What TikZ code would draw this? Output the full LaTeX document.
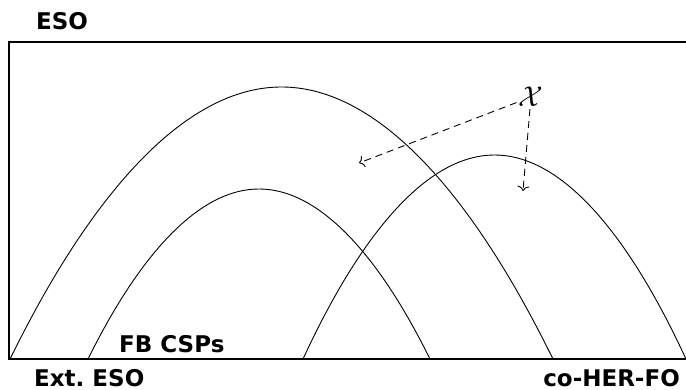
\documentclass[tikz,border=0pt]{standalone}
\usepackage{graphicx}
\usepackage{fontspec}
\newfontfamily\lblfont{DejaVu Sans}
\usetikzlibrary{arrows.meta}
\begin{document}
\begin{tikzpicture}[x=1pt,y=-1pt,
  lbl/.style={font=\lblfont\bfseries\fontsize{23}{26}\selectfont, inner sep=0pt},
  curve/.style={line width=0.9pt},
  frame/.style={line width=1.1pt},
  ptr/.style={-{To[length=5pt,width=12pt,line width=0.9pt]}, line width=0.9pt, dash pattern=on 7pt off 5pt}]
\useasboundingbox (0,0) rectangle (686,389);
% frame (right side open)
\draw[frame] (686,42) -- (9,42) -- (9,359) -- (686,359);
% curves
\draw[curve] (10,359) parabola bend (281.5,87) (553,359);
\draw[curve] (88,359) parabola bend (259,189) (430,359);
\draw[curve] (303,359) parabola bend (494.5,155) (686,359);
% labels
\node[lbl, anchor=base west] (eso) at (36,29) {ESO};
\node[lbl, anchor=base west] (ext) at (34,386) {Ext.\ ESO};
\node[lbl, anchor=base west] (fb) at (119,352) {FB CSPs};
\node[lbl, anchor=base east] (co) at (680,386) {co-HER-FO};
\node[inner sep=2pt, font=\fontsize{24.88}{28}\selectfont] (chi) at (531,97) {\scalebox{1.15}{$\mathcal{X}$}};
\coordinate (t1) at (359,163);
\coordinate (t2) at (523,191);
\draw[ptr] (chi) -- (t1);
\draw[ptr] (chi) -- (t2);
\end{tikzpicture}
\end{document}
